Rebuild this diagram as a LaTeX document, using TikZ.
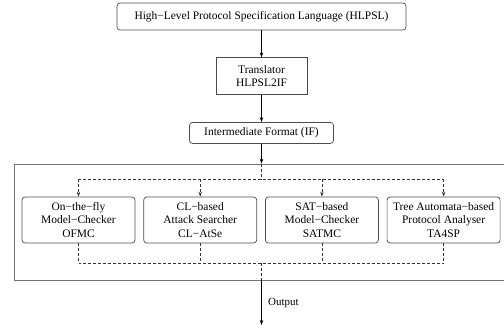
\documentclass[tikz,border=0pt]{standalone}
\usepackage{fontspec}
\setmainfont{Liberation Serif}
\usepackage{tikz}
\usetikzlibrary{arrows.meta}
\usetikzlibrary{positioning}
\tikzset{
  box/.style={draw=black!70, rounded corners=3pt, align=center, minimum width=#1, inner sep=2pt, line width=0.7pt, font=\fontsize{11.5}{13.8}\selectfont},
  box/.default=113bp,
  arrow/.style={-{Stealth[length=5pt,width=3.5pt]}, line width=0.6pt},
  link/.style={dash pattern=on 3pt off 2pt, line width=0.55pt, draw=black!80},
}

\begin{document}
\begin{tikzpicture}[x=1bp, y=-1bp]
  \useasboundingbox (0,0) rectangle (504,330);
  \node[box=289bp, minimum height=27bp] (hlpsl) at (261.5,16.5) {High−Level Protocol Specification Language (HLPSL)};
  \node[box=91bp, minimum height=37bp, rounded corners=0pt, below=27bp of hlpsl] (trans) {Translator\\HLPSL2IF};
  \node[box=144bp, minimum height=21bp, below=27bp of trans] (ifmt) {Intermediate Format (IF)};
  % frame round the back-ends
  \node[draw=black!55, line width=0.8pt, minimum width=493bp, minimum height=116bp, inner sep=0pt] (frame) at (260.5,222) {};
  \node[box, minimum height=46bp] (ofmc) at (78.5,220) {On−the−fly\\Model−Checker\\OFMC};
  \node[box, minimum height=46bp, right=8bp of ofmc] (clatse) {CL−based\\Attack Searcher\\CL−AtSe};
  \node[box, minimum height=46bp, right=8bp of clatse] (satmc) {SAT−based\\Model−Checker\\SATMC};
  \node[box, minimum height=46bp, right=8bp of satmc] (ta4sp) {Tree Automata−based\\Protocol Analyser\\TA4SP};
  \coordinate (split) at (ifmt |- 0,179);
  \coordinate (join) at (ifmt |- 0,263);
  \coordinate (out) at (ifmt |- 0,325);
  \draw[arrow] (hlpsl) -- (trans); \draw[arrow] (trans) -- (ifmt); \draw[arrow] (ifmt) -- (ifmt |- frame.north);
  \draw[link] (ifmt |- frame.north) -- (split); \draw[link] (ofmc |- split) -- (ta4sp |- split);
  \foreach \t in {ofmc,clatse,satmc,ta4sp} {
    \draw[link, arrow] (\t |- split) -- (\t.north);
    \draw[link] (\t.south) -- (\t |- join);
  }
  \draw[link] (ofmc |- join) -- (ta4sp |- join); \draw[link] (join) -- (ifmt |- frame.south);
  \draw[arrow] (ifmt |- frame.south) -- node[right=3bp, font=\fontsize{11}{13}\selectfont] (outlbl) {Output} (out);
\end{tikzpicture}
\end{document}
